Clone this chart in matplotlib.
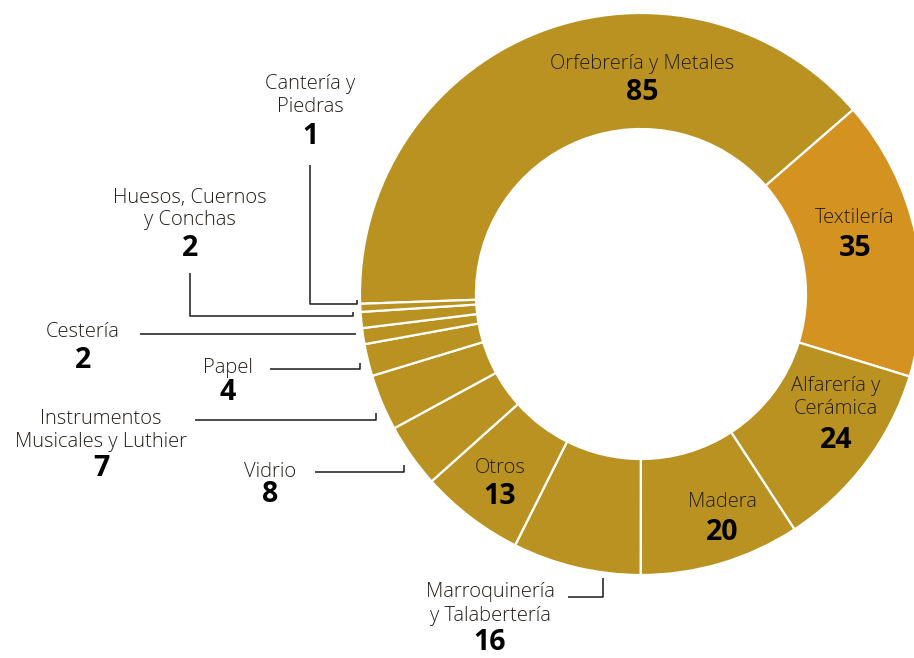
import matplotlib
matplotlib.use("Agg")
import matplotlib.pyplot as plt

categories = ["Orfebrería y Metales", "Textilería", "Alfarería y\nCerámica", "Madera",
              "Marroquinería\ny Talabertería", "Otros", "Vidrio",
              "Instrumentos\nMusicales y Luthier", "Papel", "Cestería",
              "Huesos, Cuernos\ny Conchas", "Cantería y\nPiedras"]
values = [85, 35, 24, 20, 16, 13, 8, 7, 4, 2, 2, 1]

GOLD = "#BA9221"
ORANGE = "#D49320"
colors = [GOLD, ORANGE] + [GOLD] * 10

W, H = 914, 658
fig = plt.figure(figsize=(W / 100, H / 100), dpi=100)
ax = fig.add_axes([0, 0, 1, 1])

def Y(py):
    return H - py

cx, cy, R, r_in = 641, 294, 281, 165

ax.pie(values, colors=colors, startangle=182, counterclock=False,
       center=(cx, Y(cy)), radius=R,
       wedgeprops=dict(width=R - r_in, edgecolor="white", linewidth=1.6))
ax.set_xlim(0, W)
ax.set_ylim(0, H)
ax.set_aspect("equal", adjustable="box")
ax.axis("off")

FONT = "Open Sans"
TXT = "#231f1a"

# label layout: (name_x, name_y, number_y) in pixels
layout = {
    0: (642, 64, 93),
    1: (855, 218, 248),
    2: (836, 398, 440),
    3: (722, 502, 532),
    4: (490, 604, 642),
    5: (500, 468, 497),
    6: (270, 472, 495),
    7: (101, 430, 469),
    8: (228, 368, 392),
    9: (83, 332, 360),
    10: (190, 209, 249),
    11: (310, 96, 137),
}

for i, (name, val) in enumerate(zip(categories, values)):
    x, ny, vy = layout[i]
    ax.text(x, Y(ny), name, ha="center", va="center", fontsize=14.5,
            family=FONT, fontweight="light", color=TXT, linespacing=1.2)
    ax.text(x, Y(vy), str(val), ha="center", va="center", fontsize=20.5,
            family=FONT, fontweight="bold", color="black")

# leader lines (pixel polylines)
leaders = [
    [(310, 165), (310, 304), (357, 304), (357, 300)],
    [(190, 273), (190, 316), (353, 316), (353, 312)],
    [(140, 334), (356, 334)],
    [(270, 369), (360, 369), (360, 363)],
    [(195, 420), (376, 420), (376, 413)],
    [(315, 472), (404, 472), (404, 465)],
    [(568, 597), (603, 597), (603, 578)],
]
for pts in leaders:
    xs = [p[0] for p in pts]
    ys = [Y(p[1]) for p in pts]
    ax.plot(xs, ys, color="#1a1a1a", linewidth=1.1, solid_capstyle="butt")

fig.savefig("out.png", dpi=100)
